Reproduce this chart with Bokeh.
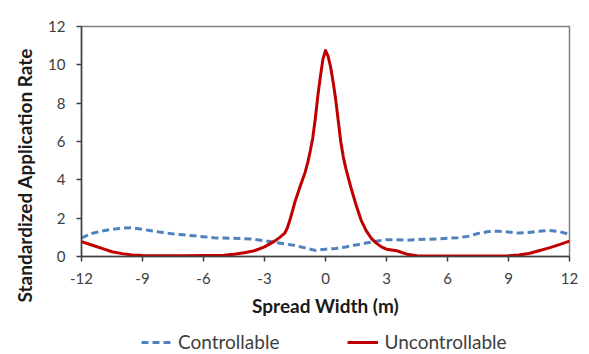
from bokeh.plotting import figure
from bokeh.layouts import column
from bokeh.models import Legend, LegendItem, FixedTicker, Range1d, PrintfTickFormatter, Title
from bokeh.embed import file_html
from bokeh.resources import INLINE

x_ctrl = [-12, -11.5, -11, -10.5, -10, -9.5, -9, -8.5, -8, -7.5, -7, -6.5, -6, -5.5, -5, -4.5,
          -4, -3.5, -3, -2.5, -2, -1.5, -1, -0.5, 0, 0.5, 1, 1.5, 2, 2.5, 3, 3.5, 4, 4.5, 5,
          5.5, 6, 6.5, 7, 7.5, 8, 8.5, 9, 9.5, 10, 10.5, 11, 11.5, 12]
y_ctrl = [0.97, 1.2, 1.33, 1.42, 1.48, 1.5, 1.42, 1.33, 1.25, 1.18, 1.13, 1.08, 1.03, 0.98, 0.96, 0.95,
          0.93, 0.9, 0.82, 0.74, 0.66, 0.57, 0.45, 0.32, 0.38, 0.42, 0.5, 0.6, 0.7, 0.8, 0.88, 0.87, 0.85, 0.88, 0.9,
          0.92, 0.95, 0.98, 1.05, 1.2, 1.3, 1.32, 1.28, 1.22, 1.25, 1.32, 1.36, 1.3, 1.15]

x_unc = [-12, -11.5, -11, -10.5, -10, -9.5, -9, -8, -7, -6, -5, -4.5, -4, -3.5, -3, -2.5, -2.25, -2,
         -1.875, -1.75, -1.5, -1.25, -1, -0.875, -0.75, -0.625, -0.5, -0.375, -0.25, -0.125, 0,
         0.125, 0.25, 0.375, 0.5, 0.625, 0.75, 0.875, 1, 1.25, 1.5, 1.75, 2, 2.25, 2.5, 2.75, 3,
         3.5, 4, 4.5, 5, 6, 7, 8, 9, 9.5, 10, 10.5, 11, 11.5, 12]
y_unc = [0.78, 0.6, 0.42, 0.25, 0.15, 0.08, 0.05, 0.04, 0.04, 0.05, 0.07, 0.12, 0.2, 0.3, 0.5, 0.8, 1.0, 1.22,
         1.5, 1.9, 2.85, 3.65, 4.4, 4.9, 5.5, 6.2, 7.2, 8.4, 9.4, 10.3, 10.75,
         10.45, 9.9, 9.1, 8.2, 7.1, 6.0, 5.2, 4.6, 3.6, 2.7, 1.9, 1.35, 0.95, 0.7, 0.5, 0.38,
         0.3, 0.12, 0.04, 0.03, 0.03, 0.03, 0.03, 0.04, 0.08, 0.16, 0.3, 0.45, 0.62, 0.8]

x_ticks = [-12, -9, -6, -3, 0, 3, 6, 9, 12]
y_ticks = [0, 2, 4, 6, 8, 10, 12]

series_names = ["Controllable", "Uncontrollable"]
series_colors = ["#4f81bd", "#c00000"]

FONT = "Lato"

p = figure(width=589, height=320, output_backend="svg", toolbar_location=None,
           x_range=Range1d(-12, 12), y_range=Range1d(0, 12),
           min_border_left=81, min_border_right=20, min_border_top=26, min_border_bottom=64)
p.background_fill_color = "white"
p.border_fill_color = "white"
p.outline_line_color = "#7f7f7f"
p.outline_line_width = 1.5
p.grid.visible = False

for ax in (p.xaxis[0], p.yaxis[0]):
    ax.axis_line_color = "#404040"
    ax.axis_line_width = 1.5
    ax.major_tick_line_color = "#404040"
    ax.major_tick_line_width = 1.5
    ax.major_tick_out = 5
    ax.major_tick_in = 0
    ax.minor_tick_line_color = None
    ax.major_label_text_font = FONT
    ax.major_label_text_font_size = "15px"
    ax.major_label_text_color = "#404040"
    ax.major_label_standoff = 11
    ax.axis_label_text_font = FONT
    ax.axis_label_text_font_size = "19px"
    ax.axis_label_text_font_style = "bold"
    ax.axis_label_text_color = "#1a1a1a"
    ax.axis_label_standoff = 7
    ax.formatter = PrintfTickFormatter(format="%d")

p.xaxis.ticker = FixedTicker(ticks=x_ticks)
p.yaxis.ticker = FixedTicker(ticks=y_ticks)
p.xaxis.axis_label = "Spread Width (m)"

ytitle = Title(text="Standardized Application Rate", align="left", offset=-46,
               vertical_align="bottom", standoff=20, text_font=FONT, text_font_size="19px",
               text_font_style="bold", text_color="#1a1a1a")
p.add_layout(ytitle, "left")

p.line(x_ctrl, y_ctrl, line_color=series_colors[0], line_width=3, line_dash="7 4", line_join="round")
p.line(x_unc, y_unc, line_color=series_colors[1], line_width=3, line_join="round")

# legend strip below the chart (same series, drawn out of view so only the legend shows)
lf = figure(width=589, height=34, output_backend="svg", toolbar_location=None,
            x_range=Range1d(100, 200), y_range=Range1d(100, 200),
            min_border_left=0, min_border_right=0, min_border_top=0, min_border_bottom=0)
lf.axis.visible = False
lf.grid.visible = False
lf.outline_line_color = None
lf.background_fill_color = "white"
lf.border_fill_color = "white"
l1 = lf.line(x_ctrl, y_ctrl, line_color=series_colors[0], line_width=3, line_dash="7 4")
l2 = lf.line(x_unc, y_unc, line_color=series_colors[1], line_width=3)

legend = Legend(items=[LegendItem(label=series_names[0], renderers=[l1]),
                       LegendItem(label=series_names[1], renderers=[l2])],
                orientation="horizontal", location=(60, 1),
                label_text_font=FONT, label_text_font_size="19px", label_text_color="#404040",
                glyph_width=31, spacing=68, border_line_color=None, background_fill_alpha=0,
                padding=2, margin=0, label_standoff=6)
lf.add_layout(legend, "center")

layout = column(p, lf, spacing=0)
open("out.html", "w").write(file_html(layout, INLINE))
